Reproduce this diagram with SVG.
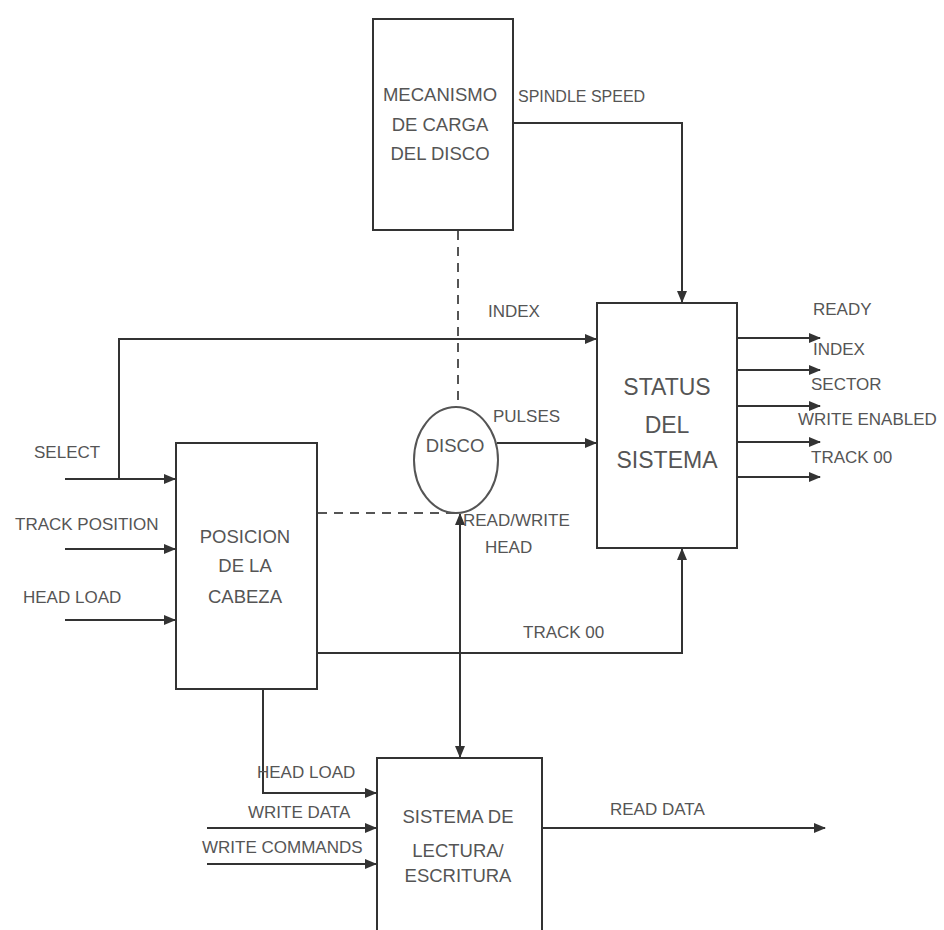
<svg xmlns="http://www.w3.org/2000/svg" width="944" height="930" viewBox="0 0 944 930">
<style>
.box{fill:#fff;stroke:#333;stroke-width:2}
.ln{fill:none;stroke:#333;stroke-width:2}
.dash{fill:none;stroke:#555;stroke-width:2;stroke-dasharray:9,7}
.t{font-family:"Liberation Sans",Arial,sans-serif;fill:#555}
.lb{font-size:17px}
.bt{font-size:18.5px;text-anchor:middle}
.st{font-size:23px;text-anchor:middle}
</style>
<defs>
<marker id="ah" markerWidth="12" markerHeight="10" refX="11" refY="5" orient="auto" markerUnits="userSpaceOnUse">
<path d="M0,0 L12,5 L0,10 Z" fill="#333"/>
</marker>
<marker id="ahs" markerWidth="12" markerHeight="10" refX="11" refY="5" orient="auto-start-reverse" markerUnits="userSpaceOnUse">
<path d="M0,0 L12,5 L0,10 Z" fill="#333"/>
</marker>
</defs>
<rect width="944" height="930" fill="#fff"/>
<g id="connectors">
<path class="dash" d="M458,231 V407"/>
<path class="dash" d="M318,513 H455"/>
<path class="ln" d="M514,123 H682 V302" marker-end="url(#ah)"/>
<path class="ln" d="M119,479 V339 H596" marker-end="url(#ah)"/>
<path class="ln" d="M65,479 H175" marker-end="url(#ah)"/>
<path class="ln" d="M65,549 H175" marker-end="url(#ah)"/>
<path class="ln" d="M65,620 H175" marker-end="url(#ah)"/>
<path class="ln" d="M497,443 H596" marker-end="url(#ah)"/>
<path class="ln" d="M738,338 H820" marker-end="url(#ah)"/>
<path class="ln" d="M738,370 H820" marker-end="url(#ah)"/>
<path class="ln" d="M738,406 H820" marker-end="url(#ah)"/>
<path class="ln" d="M738,442 H820" marker-end="url(#ah)"/>
<path class="ln" d="M738,477 H820" marker-end="url(#ah)"/>
<path class="ln" d="M318,653 H682 V549" marker-end="url(#ah)"/>
<path class="ln" d="M460,514 V757" marker-start="url(#ahs)" marker-end="url(#ah)"/>
<path class="ln" d="M263,690 V793 H376" marker-end="url(#ah)"/>
<path class="ln" d="M207,828 H376" marker-end="url(#ah)"/>
<path class="ln" d="M207,864 H376" marker-end="url(#ah)"/>
<path class="ln" d="M543,828 H825" marker-end="url(#ah)"/>
</g>
<g id="mecanismo">
<rect class="box" x="373" y="19" width="140" height="211"/>
<text class="t bt" x="440" y="101">MECANISMO</text>
<text class="t bt" x="440" y="131">DE CARGA</text>
<text class="t bt" x="440" y="160">DEL DISCO</text>
</g>
<g id="status">
<rect class="box" x="597" y="303" width="140" height="245"/>
<text class="t st" x="667" y="395">STATUS</text>
<text class="t st" x="667" y="433">DEL</text>
<text class="t st" x="667" y="468">SISTEMA</text>
</g>
<g id="posicion">
<rect class="box" x="176" y="443" width="141" height="246"/>
<text class="t bt" x="245" y="543">POSICION</text>
<text class="t bt" x="245" y="572">DE LA</text>
<text class="t bt" x="245" y="603">CABEZA</text>
</g>
<g id="disco">
<ellipse cx="456" cy="460" rx="42" ry="53" fill="#fff" stroke="#555" stroke-width="2"/>
<text class="t bt" x="455" y="452">DISCO</text>
</g>
<g id="sistema">
<rect class="box" x="377" y="758" width="165" height="180"/>
<text class="t bt" x="458" y="823">SISTEMA DE</text>
<text class="t bt" x="458" y="857">LECTURA/</text>
<text class="t bt" x="458" y="882">ESCRITURA</text>
</g>
<g id="labels">
<text class="t lb" x="518" y="102" style="font-size:16px">SPINDLE SPEED</text>
<text class="t lb" x="488" y="317">INDEX</text>
<text class="t lb" x="493" y="422">PULSES</text>
<text class="t lb" x="463" y="526">READ/WRITE</text>
<text class="t lb" x="485" y="553">HEAD</text>
<text class="t lb" x="523" y="638">TRACK 00</text>
<text class="t lb" x="34" y="458">SELECT</text>
<text class="t lb" x="15" y="530">TRACK POSITION</text>
<text class="t lb" x="23" y="603">HEAD LOAD</text>
<text class="t lb" x="813" y="315">READY</text>
<text class="t lb" x="813" y="355">INDEX</text>
<text class="t lb" x="811" y="390">SECTOR</text>
<text class="t lb" x="798" y="425">WRITE ENABLED</text>
<text class="t lb" x="811" y="463">TRACK 00</text>
<text class="t lb" x="257" y="778">HEAD LOAD</text>
<text class="t lb" x="248" y="818">WRITE DATA</text>
<text class="t lb" x="202" y="853">WRITE COMMANDS</text>
<text class="t lb" x="610" y="815">READ DATA</text>
</g>
</svg>
